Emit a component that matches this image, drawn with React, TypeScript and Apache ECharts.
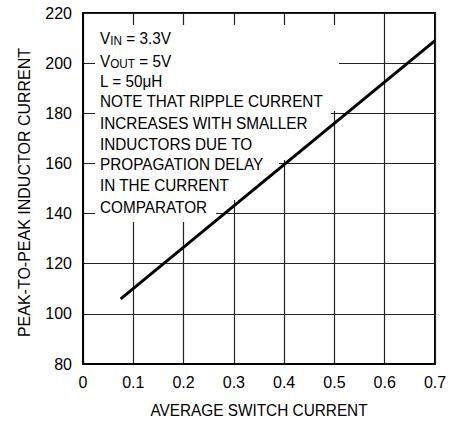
import React, { useEffect, useRef } from "react";
import * as echarts from "echarts";

const xValues = [0.075, 0.7];
const yValues = [106, 209];
const xMin = 0, xMax = 0.7, xStep = 0.1;
const yMin = 80, yMax = 220, yStep = 20;
const xTitle = "AVERAGE SWITCH CURRENT";
const yTitle = "PEAK-TO-PEAK INDUCTOR CURRENT";
const noteLines = [
  "{m|V}{s|IN}{m| = 3.3V}",
  "{m|V}{s|OUT}{m| = 5V}",
  "{m|L = 50μH}",
  "{m|NOTE THAT RIPPLE CURRENT}",
  "{m|INCREASES WITH SMALLER}",
  "{m|INDUCTORS DUE TO}",
  "{m|PROPAGATION DELAY}",
  "{m|IN THE CURRENT}",
  "{m|COMPARATOR}",
];
const noteY = [38.5, 61.5, 81.7, 101.7, 123.5, 144, 164.5, 185, 207.5];

const FONT = "'Liberation Sans', Arial, sans-serif";

export default function App() {
  const ref = useRef<HTMLDivElement>(null);
  useEffect(() => {
    if (!ref.current) return;
    const chart = echarts.init(ref.current, null, { renderer: "svg" });
    const masks = [
      [95, 25, 244, 86],
      [95, 111, 236, 49],
      [95, 160, 184, 40],
      [95, 200, 121, 22],
    ];
    const graphic: any[] = [];
    masks.forEach(([x, y, w, h]) =>
      graphic.push({
        type: "rect",
        z: 1,
        shape: { x, y, width: w, height: h },
        style: { fill: "#fff" },
        silent: true,
      })
    );
    noteLines.forEach((t, i) =>
      graphic.push({
        type: "text",
        z: 3,
        x: 100,
        y: noteY[i],
        scaleX: 0.94,
        style: {
          text: t,
          verticalAlign: "middle",
          align: "left",
          fill: "#000",
          rich: {
            m: { fontSize: 16.3, fontFamily: FONT, lineHeight: 18, fill: "#000" },
            s: { fontSize: 12.5, fontFamily: FONT, lineHeight: 12, verticalAlign: "bottom", fill: "#000" },
          },
        },
      })
    );
    graphic.push({
      type: "text",
      z: 3,
      x: 24,
      y: 192.5,
      rotation: Math.PI / 2,
      style: {
        text: yTitle,
        fontSize: 16,
        fontFamily: FONT,
        fill: "#000",
        align: "center",
        verticalAlign: "middle",
      },
    });
    graphic.push({
      type: "text",
      z: 3,
      x: 259,
      y: 410,
      scaleX: 0.96,
      style: {
        text: xTitle,
        fontSize: 16,
        fontFamily: FONT,
        fill: "#000",
        align: "center",
        verticalAlign: "middle",
      },
    });

    chart.setOption({
      animation: false,
      backgroundColor: "#fff",
      grid: {
        left: 83,
        top: 13,
        right: 27,
        bottom: 60,
        show: true,
        borderColor: "#000",
        borderWidth: 2,
        containLabel: false,
      },
      xAxis: {
        type: "value",
        min: xMin,
        max: xMax,
        interval: xStep,
        axisLine: { show: true, lineStyle: { color: "#000", width: 2 } },
        axisTick: { show: false },
        splitLine: { show: true, lineStyle: { color: "#222", width: 1.2 } },
        axisLabel: {
          margin: 10,
          fontSize: 16,
          fontFamily: FONT,
          color: "#000",
          formatter: (v: number) => (Math.round(v * 10) / 10).toString(),
        },
      },
      yAxis: {
        type: "value",
        min: yMin,
        max: yMax,
        interval: yStep,
        axisLine: { show: true, lineStyle: { color: "#000", width: 2 } },
        axisTick: { show: false },
        splitLine: { show: true, lineStyle: { color: "#222", width: 1.2 } },
        axisLabel: {
          margin: 11,
          fontSize: 16,
          fontFamily: FONT,
          color: "#000",
        },
      },
      graphic,
      series: [
        {
          type: "line",
          z: 5,
          data: xValues.map((x, i) => [x, yValues[i]]),
          symbol: "none",
          lineStyle: { color: "#000", width: 3 },
        },
      ],
    });
    return () => chart.dispose();
  }, []);
  return <div ref={ref} style={{ width: 462, height: 424, position: "absolute", left: 0, top: 0 }} />;
}
